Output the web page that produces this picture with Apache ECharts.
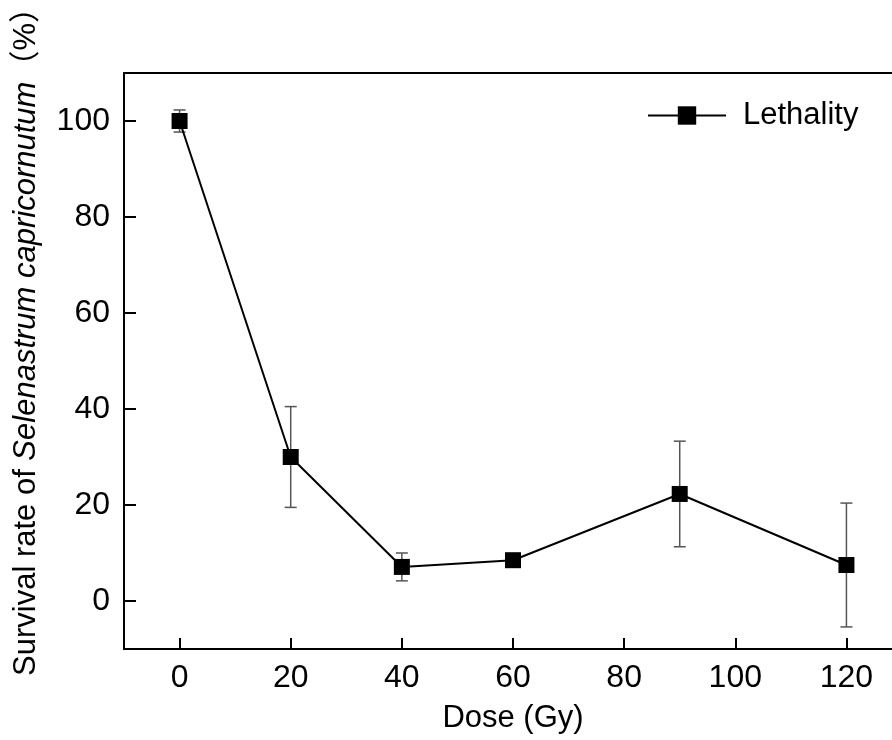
<!DOCTYPE html>
<html>
<head>
<meta charset="utf-8">
<script src="https://cdn.jsdelivr.net/npm/echarts@6/dist/echarts.min.js"></script>
<style>
  html, body { margin: 0; padding: 0; background: #fff; }
  #main { width: 892px; height: 740px; }
</style>
</head>
<body>
<div id="main"></div>
<script>
// dose (Gy), survival (%), error (+/-)
const doses = [0, 20, 40, 60, 90, 120];
const survival = [100, 30, 7.1, 8.5, 22.3, 7.5];
const errors = [2.3, 10.5, 2.9, 0.8, 11, 12.9];
const xTicks = [0, 20, 40, 60, 80, 100, 120];
const yTicks = [0, 20, 40, 60, 80, 100];

const font = "'Liberation Sans', Arial, 'Noto Sans CJK SC', sans-serif";

const lineData = doses.map((d, i) => [d, survival[i]]);
const errData = doses.map((d, i) => [d, survival[i] - errors[i], survival[i] + errors[i]]);

const chart = echarts.init(document.getElementById('main'));
chart.setOption({
  animation: false,
  backgroundColor: '#fff',
  grid: { left: 124, top: 73, right: -10, bottom: 91, outerBoundsMode: 'none' },
  legend: {
    left: 642, top: 95,
    itemWidth: 78, itemHeight: 23, itemGap: 0,
    textStyle: { fontFamily: font, fontSize: 31, color: '#000', padding: [0, 0, 0, 12] },
    data: ['Lethality']
  },
  xAxis: [
    {
      type: 'value', min: -10, max: 130,
      name: 'Dose (Gy)', nameLocation: 'middle', nameGap: 54,
      nameTextStyle: { fontFamily: font, fontSize: 31, color: '#000' },
      axisLine: { onZero: false, lineStyle: { color: '#000', width: 2 } },
      axisTick: { inside: true, length: 11, customValues: xTicks, lineStyle: { color: '#000', width: 2 } },
      axisLabel: { customValues: xTicks, margin: 13, fontFamily: font, fontSize: 32, color: '#000' },
      splitLine: { show: false }
    },
    {
      type: 'value', position: 'top', min: -10, max: 130,
      axisLine: { show: true, onZero: false, lineStyle: { color: '#000', width: 2 } },
      axisTick: { show: false }, axisLabel: { show: false }, splitLine: { show: false }
    }
  ],
  yAxis: {
    type: 'value', min: -10, max: 110,
    name: 'Survival rate of {i|Selenastrum capricornutum}\uFF08%\uFF09',
    nameLocation: 'middle', nameGap: 82, nameRotate: 90,
    nameTextStyle: {
      fontFamily: font, fontSize: 31, color: '#000', padding: [0, 0, 0, 54],
      rich: { i: { fontFamily: font, fontSize: 31, fontStyle: 'italic', color: '#000' } }
    },
    axisLine: { show: true, onZero: false, lineStyle: { color: '#000', width: 2 } },
    axisTick: { inside: true, length: 12, customValues: yTicks, lineStyle: { color: '#000', width: 2 } },
    axisLabel: { customValues: yTicks, margin: 14, fontFamily: font, fontSize: 32, color: '#000' },
    splitLine: { show: false }
  },
  series: [
    {
      type: 'custom',
      name: 'err',
      data: errData,
      z: 1,
      renderItem: function (params, api) {
        const x = api.value(0);
        const lo = api.coord([x, api.value(1)]);
        const hi = api.coord([x, api.value(2)]);
        const w = 6;
        const style = { stroke: '#555', lineWidth: 1.5 };
        return {
          type: 'group',
          children: [
            { type: 'line', shape: { x1: lo[0], y1: lo[1], x2: hi[0], y2: hi[1] }, style: style },
            { type: 'line', shape: { x1: lo[0] - w, y1: lo[1], x2: lo[0] + w, y2: lo[1] }, style: style },
            { type: 'line', shape: { x1: hi[0] - w, y1: hi[1], x2: hi[0] + w, y2: hi[1] }, style: style }
          ]
        };
      }
    },
    {
      type: 'line',
      name: 'Lethality',
      data: lineData,
      z: 3,
      symbol: 'rect',
      symbolSize: 16,
      color: '#000',
      itemStyle: { color: '#000' },
      lineStyle: { color: '#000', width: 2 }
    }
  ]
});
</script>
</body>
</html>
